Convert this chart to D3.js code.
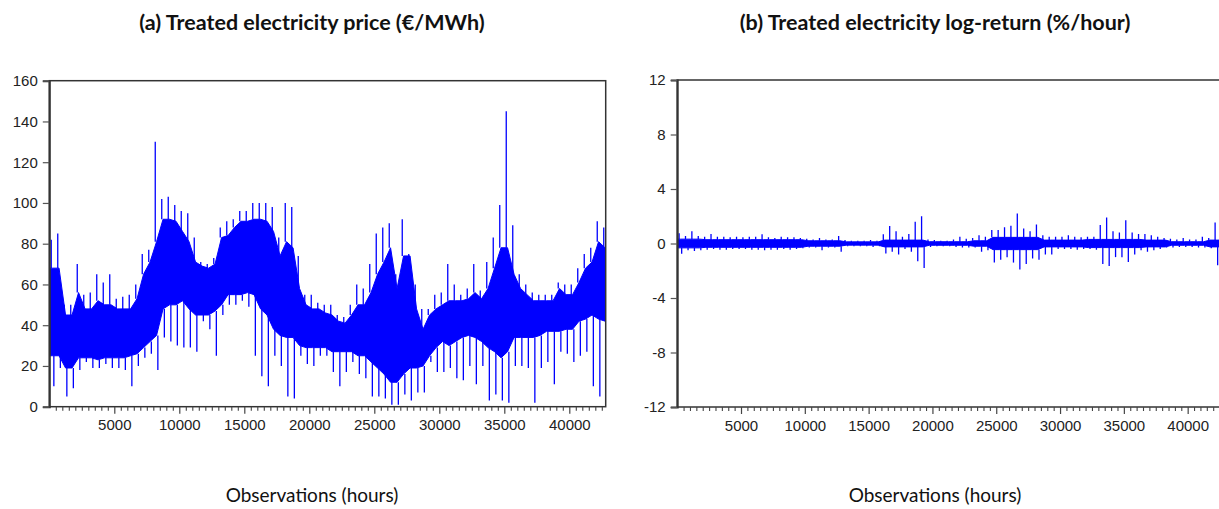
<!DOCTYPE html>
<html>
<head>
<meta charset="utf-8">
<script src="https://cdn.jsdelivr.net/npm/d3@7"></script>
<style>
  html, body { margin: 0; padding: 0; background: #fff; }
  svg { display: block; }
</style>
</head>
<body>
<svg id="chart" width="1219" height="509"></svg>
<script>
// ---------- DATA (500-hour bins) ----------
const binStart = d3.range(0, 43000, 500);        // start of each 500-hour bin (86 bins)
const binWidth = 500;
const nObs = 42800;

// (a) price, €/MWh : per-bin extreme spikes and dense-band limits
const priceHigh = [82,85,50,50,70,55,56,65,61,65,53,54,55,60,75,77,130,102,103,99,
  96,95,83,71,70,73,88,91,92,96,96,100,100,100,98,83,100,98,74,55,
  55,51,50,50,45,44,50,60,58,70,85,88,90,65,92,75,60,48,48,55,
  56,70,60,55,58,70,57,71,83,99,145,89,65,60,56,55,55,55,61,60,
  60,68,75,78,91,88];
const priceBandHigh = [68,68,45,45,56,48,48,52,50,50,48,48,48,53,65,71,81,92,92,91,
  86,81,71,69,68,70,83,84,88,91,91,92,92,91,86,74,81,78,58,50,
  48,48,46,45,42,41,45,50,50,56,65,71,78,58,74,74,48,38,45,48,
  50,52,52,52,53,56,53,58,68,78,78,65,58,55,52,52,52,52,58,55,
  55,61,68,71,81,78];
const priceBandLow = [25,25,19,19,24,24,24,23,24,24,24,24,25,26,29,32,35,48,50,50,
  52,48,45,45,45,47,50,55,55,55,56,55,48,45,38,35,34,34,30,29,
  29,29,29,27,27,27,27,25,25,22,19,16,12,12,16,19,19,20,25,29,
  32,30,32,34,35,34,32,29,27,24,27,34,34,34,34,35,37,37,37,38,
  38,42,43,45,43,42];
const priceLow = [10,19,5,9,18,22,19,19,21,19,19,18,10,20,24,26,18,34,32,30,
  29,29,27,42,38,25,45,50,50,52,49,25,15,10,25,20,5,4,25,21,
  20,25,25,17,10,17,22,16,14,5,5,4,1,1,6,3,7,7,22,17,
  17,19,14,13,20,11,20,3,6,3,2,20,20,19,2,19,22,11,27,26,
  22,25,27,10,5,10];

// (b) log-return, %/hour
const returnHigh = [0.75,0.55,0.9,0.55,0.5,0.7,0.5,0.5,0.45,0.5,0.45,0.5,0.5,0.67,0.45,0.4,0.5,0.45,0.45,0.4,
  0.35,0.3,0.4,0.3,0.3,0.55,0.25,0.2,0.2,0.2,0.25,0.2,0.67,1.28,0.9,0.5,0.7,1.6,2.0,0.3,
  0.25,0.2,0.2,0.3,0.5,0.35,0.4,0.6,0.5,1.0,1.0,1.2,1.3,2.2,1.1,0.9,1.4,0.6,0.5,0.5,
  0.5,0.6,0.5,0.45,0.5,0.5,1.36,1.9,0.9,0.8,1.7,0.8,0.7,0.7,0.6,0.5,0.4,0.35,0.3,0.4,
  0.3,0.3,0.5,0.4,1.55,0.6];
const returnBandHigh = [0.32,0.32,0.32,0.32,0.28,0.28,0.28,0.28,0.28,0.28,0.28,0.28,0.28,0.28,0.28,0.28,0.28,0.28,0.28,0.28,
  0.2,0.2,0.2,0.2,0.2,0.2,0.12,0.12,0.12,0.12,0.12,0.12,0.25,0.25,0.25,0.25,0.25,0.25,0.25,0.13,
  0.13,0.13,0.13,0.13,0.13,0.13,0.2,0.2,0.2,0.45,0.45,0.45,0.45,0.45,0.45,0.45,0.45,0.25,0.25,0.25,
  0.25,0.25,0.25,0.25,0.3,0.3,0.3,0.3,0.3,0.3,0.3,0.3,0.3,0.25,0.25,0.25,0.25,0.13,0.13,0.13,
  0.13,0.13,0.13,0.25,0.25,0.25];
const returnBandLow = returnBandHigh.map(v => -v);
const returnLow = [-0.75,-0.5,-0.55,-0.5,-0.45,-0.4,-0.45,-0.45,-0.4,-0.4,-0.4,-0.45,-0.45,-0.5,-0.45,-0.45,-0.4,-0.45,-0.4,-0.35,
  -0.3,-0.3,-0.5,-0.3,-0.3,-0.6,-0.2,-0.2,-0.2,-0.2,-0.25,-0.2,-0.74,-0.6,-0.8,-0.4,-0.6,-1.3,-1.8,-0.25,
  -0.2,-0.2,-0.2,-0.25,-0.3,-0.3,-0.3,-0.6,-0.5,-1.4,-1.2,-1.0,-1.4,-1.9,-1.5,-1.1,-1.2,-0.8,-0.8,-0.4,
  -0.4,-0.4,-0.45,-0.4,-0.4,-0.45,-1.5,-1.65,-1.0,-1.0,-1.35,-0.8,-0.5,-0.6,-0.5,-0.4,-0.3,-0.3,-0.25,-0.25,
  -0.25,-0.3,-0.3,-0.35,-1.6,-0.5];

// ticks / labels
const priceTicks = [0,20,40,60,80,100,120,140,160];
const returnTicks = [-12,-8,-4,0,4,8,12];
const xMajorTicks = [5000,10000,15000,20000,25000,30000,35000,40000];
const xMinorTicks = d3.range(500, 42800, 500);
const titles = ["(a) Treated electricity price (€/MWh)", "(b) Treated electricity log-return (%/hour)"];
const xTitle = "Observations (hours)";

// ---------- DRAW ----------
const svg = d3.select("#chart");
const BLUE = "#0000ff";
const AX = "#333333";
const TICKFONT = "'Liberation Sans', Arial, sans-serif";
const fmt = d => String(d);

function panel(cfg) {
  const x = d3.scaleLinear().domain([0, nObs]).range([cfg.x0, cfg.x1]);
  const y = d3.scaleLinear().domain(cfg.yDomain).range([cfg.y1, cfg.y0]);
  const g = svg.append("g");
  const clipId = "clip" + cfg.id;
  svg.append("clipPath").attr("id", clipId).append("rect")
    .attr("x", cfg.x0).attr("y", cfg.y0).attr("width", cfg.x1 - cfg.x0).attr("height", cfg.y1 - cfg.y0);

  const data = binStart.map((s, i) => ({
    s, mid: Math.min(s + binWidth / 2, nObs),
    hi: cfg.hi[i], bh: cfg.bh[i], bl: cfg.bl[i], lo: cfg.lo[i]
  }));

  const plot = g.append("g").attr("clip-path", `url(#${clipId})`);
  // dense band
  const area = d3.area()
    .x(d => x(d.mid)).y0(d => y(d.bl)).y1(d => y(d.bh));
  const bandData = [{...data[0], mid: 0}, ...data, {...data[data.length-1], mid: nObs}];
  plot.append("path").datum(bandData).attr("d", area).attr("fill", BLUE).attr("stroke", BLUE).attr("stroke-width", 1);
  // spikes
  plot.selectAll(".up").data(data).join("line")
    .attr("x1", d => x(d.s + binWidth * 0.3)).attr("x2", d => x(d.s + binWidth * 0.3))
    .attr("y1", d => y(d.bh)).attr("y2", d => y(d.hi))
    .attr("stroke", BLUE).attr("stroke-width", 1.3);
  plot.selectAll(".dn").data(data).join("line")
    .attr("x1", d => x(d.s + binWidth * 0.7)).attr("x2", d => x(d.s + binWidth * 0.7))
    .attr("y1", d => y(d.bl)).attr("y2", d => y(d.lo))
    .attr("stroke", BLUE).attr("stroke-width", 1.3);

  // frame
  g.append("rect").attr("x", cfg.x0).attr("y", cfg.y0)
    .attr("width", cfg.x1 - cfg.x0).attr("height", cfg.y1 - cfg.y0)
    .attr("fill", "none").attr("stroke", AX).attr("stroke-width", 1.5);

  // y axis
  const ya = g.append("g").attr("transform", `translate(${cfg.x0},0)`)
    .call(d3.axisLeft(y).tickValues(cfg.yTicks).tickSize(6.5).tickPadding(5).tickFormat(fmt));
  ya.select(".domain").attr("stroke", AX).attr("stroke-width", 2);
  ya.selectAll(".tick line").attr("stroke", "#555").attr("stroke-width", 1.2);
  ya.selectAll("text").attr("font-family", TICKFONT).attr("font-size", 15).attr("fill", "#222");

  // x axis
  const xa = g.append("g").attr("transform", `translate(0,${cfg.y1})`)
    .call(d3.axisBottom(x).tickValues(xMajorTicks).tickSize(7).tickPadding(6).tickFormat(fmt));
  xa.select(".domain").remove();
  xa.selectAll(".tick line").attr("stroke", "#444").attr("stroke-width", 1.2);
  xa.selectAll("text").attr("font-family", TICKFONT).attr("font-size", 15).attr("fill", "#222");
  const xm = g.append("g").attr("transform", `translate(0,${cfg.y1})`)
    .call(d3.axisBottom(x).tickValues(xMinorTicks.filter(v => v % 5000 !== 0)).tickSize(4).tickFormat(""));
  xm.select(".domain").remove();
  xm.selectAll(".tick line").attr("stroke", "#444").attr("stroke-width", 1.1);

  // titles
  svg.append("text").attr("x", cfg.titleX).attr("y", 30).attr("text-anchor", "middle")
    .attr("font-family", "Lato, 'Open Sans', sans-serif").attr("font-weight", "bold").attr("font-size", 21.5)
    .attr("fill", "#111").text(cfg.title);
  svg.append("text").attr("x", cfg.titleX).attr("y", 502).attr("text-anchor", "middle")
    .attr("font-family", "Lato, 'Open Sans', sans-serif").attr("font-size", 19)
    .attr("fill", "#111").text(xTitle);
}

panel({ id: "a", x0: 49.3, x1: 605.7, y0: 80.7, y1: 406.7, yDomain: [0, 160], yTicks: priceTicks,
  hi: priceHigh, bh: priceBandHigh, bl: priceBandLow, lo: priceLow, title: titles[0], titleX: 312 });
panel({ id: "b", x0: 677.2, x1: 1223.4, y0: 80, y1: 407, yDomain: [-12, 12], yTicks: returnTicks,
  hi: returnHigh, bh: returnBandHigh, bl: returnBandLow, lo: returnLow, title: titles[1], titleX: 935 });
</script>
</body>
</html>
